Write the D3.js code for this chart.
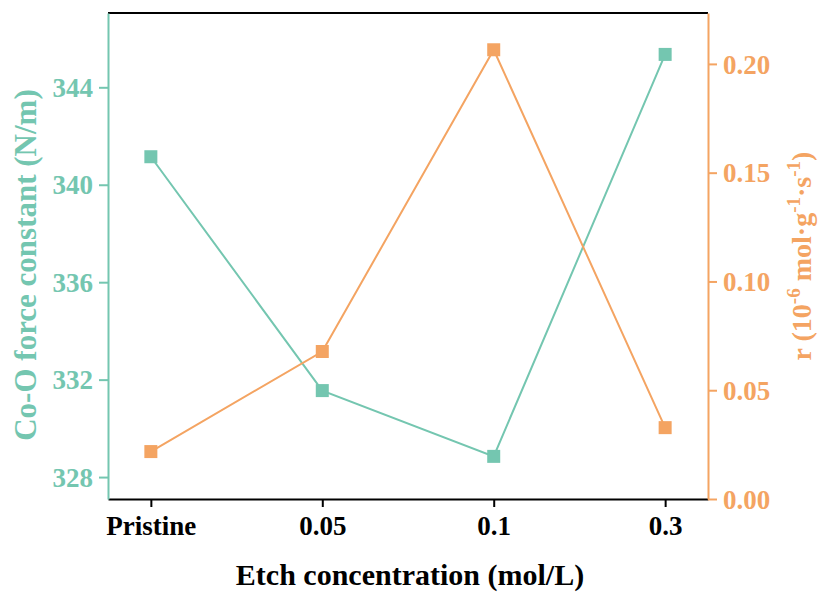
<!DOCTYPE html>
<html>
<head>
<meta charset="utf-8">
<script src="https://cdn.jsdelivr.net/npm/d3@7"></script>
<style>
  body { margin: 0; background: #fff; }
  svg { display: block; font-family: "Liberation Serif", "Times New Roman", serif; font-weight: bold; }
</style>
</head>
<body>
<svg id="chart" width="820" height="594"></svg>
<script>
// Data
const categories = ['Pristine', '0.05', '0.1', '0.3'];
const forceConstant = [341.15, 331.55, 328.85, 345.35];   // N/m, left axis
const rateValues = [0.0218, 0.0678, 0.2065, 0.0328];       // 10^-6 mol g^-1 s^-1, right axis
const leftTicks = [328, 332, 336, 340, 344];
const rightTicks = [0.00, 0.05, 0.10, 0.15, 0.20];

const green = '#74c6b0';
const orange = '#f4a462';

const svg = d3.select('#chart');
const plot = { left: 108, right: 708, top: 13, bottom: 499 };

const x = d3.scalePoint().domain(categories).range([plot.left, plot.right]).padding(0.25);
const yL = d3.scaleLinear().domain([327.1, 347.05]).range([plot.bottom, plot.top]);
const yR = d3.scaleLinear().domain([0, 0.2234]).range([plot.bottom, plot.top]);

// Frame: top in black
svg.append('line')
  .attr('x1', plot.left).attr('x2', plot.right)
  .attr('y1', plot.top).attr('y2', plot.top)
  .attr('stroke', '#000').attr('stroke-width', 2);

function styleTicks(g, color) {
  g.selectAll('.tick text')
    .attr('fill', color)
    .style('font-size', '27px')
    .style('font-family', '"Liberation Serif", serif')
    .style('font-weight', 'bold');
}

// Bottom axis
const xAxis = svg.append('g')
  .attr('transform', `translate(0,${plot.bottom})`)
  .call(d3.axisBottom(x).tickSizeInner(8).tickSizeOuter(0).tickPadding(9));
xAxis.select('.domain').attr('stroke', '#000').attr('stroke-width', 2);
xAxis.selectAll('.tick line').attr('stroke', '#000').attr('stroke-width', 2);
styleTicks(xAxis, '#000');

// Left axis
const leftAxis = svg.append('g')
  .attr('transform', `translate(${plot.left},0)`)
  .call(d3.axisLeft(yL).tickValues(leftTicks).tickSizeInner(9).tickSizeOuter(0).tickPadding(6));
leftAxis.select('.domain').attr('stroke', green).attr('stroke-width', 2);
leftAxis.selectAll('.tick line').attr('stroke', green).attr('stroke-width', 2);
styleTicks(leftAxis, green);
leftAxis.selectAll('.tick text').attr('dy', '0.34em');

// Right axis
const rightAxis = svg.append('g')
  .attr('transform', `translate(${plot.right},0)`)
  .call(d3.axisRight(yR).tickValues(rightTicks).tickFormat(d3.format('.2f')).tickSizeInner(9).tickSizeOuter(0).tickPadding(6));
rightAxis.select('.domain').attr('stroke', orange).attr('stroke-width', 2);
rightAxis.selectAll('.tick line').attr('stroke', orange).attr('stroke-width', 2);
styleTicks(rightAxis, orange);
rightAxis.selectAll('.tick text').attr('dy', '0.34em');

// Series lines
const lineL = d3.line().x((d, i) => x(categories[i])).y(d => yL(d));
const lineR = d3.line().x((d, i) => x(categories[i])).y(d => yR(d));

svg.append('path').datum(forceConstant)
  .attr('d', lineL).attr('fill', 'none').attr('stroke', green).attr('stroke-width', 2);
svg.append('path').datum(rateValues)
  .attr('d', lineR).attr('fill', 'none').attr('stroke', orange).attr('stroke-width', 2);

// Square markers
const ms = 13;
svg.append('g').selectAll('rect')
  .data(forceConstant).enter().append('rect')
  .attr('x', (d, i) => x(categories[i]) - ms / 2)
  .attr('y', d => yL(d) - ms / 2)
  .attr('width', ms).attr('height', ms)
  .attr('fill', green);
svg.append('g').selectAll('rect')
  .data(rateValues).enter().append('rect')
  .attr('x', (d, i) => x(categories[i]) - ms / 2)
  .attr('y', d => yR(d) - ms / 2)
  .attr('width', ms).attr('height', ms)
  .attr('fill', orange);

// Axis titles
svg.append('text')
  .attr('x', (plot.left + plot.right) / 2 + 2)
  .attr('y', 585)
  .attr('text-anchor', 'middle')
  .attr('fill', '#000')
  .style('font-size', '30px')
  .text('Etch concentration (mol/L)');

svg.append('text')
  .attr('transform', `translate(36,${(plot.top + plot.bottom) / 2 + 9}) rotate(-90)`)
  .attr('text-anchor', 'middle')
  .attr('fill', green)
  .style('font-size', '31px')
  .text('Co-O force constant (N/m)');

const rTitle = svg.append('text')
  .attr('transform', `translate(811,${(plot.top + plot.bottom) / 2}) rotate(-90)`)
  .attr('text-anchor', 'middle')
  .attr('fill', orange)
  .style('font-size', '28px');
rTitle.append('tspan').text('r (10');
rTitle.append('tspan').attr('dy', -11).style('font-size', '19px').text('-6');
rTitle.append('tspan').attr('dy', 11).text(' mol·g');
rTitle.append('tspan').attr('dy', -11).style('font-size', '19px').text('-1');
rTitle.append('tspan').attr('dy', 11).text('·s');
rTitle.append('tspan').attr('dy', -11).style('font-size', '19px').text('-1');
rTitle.append('tspan').attr('dy', 11).text(')');
</script>
</body>
</html>
